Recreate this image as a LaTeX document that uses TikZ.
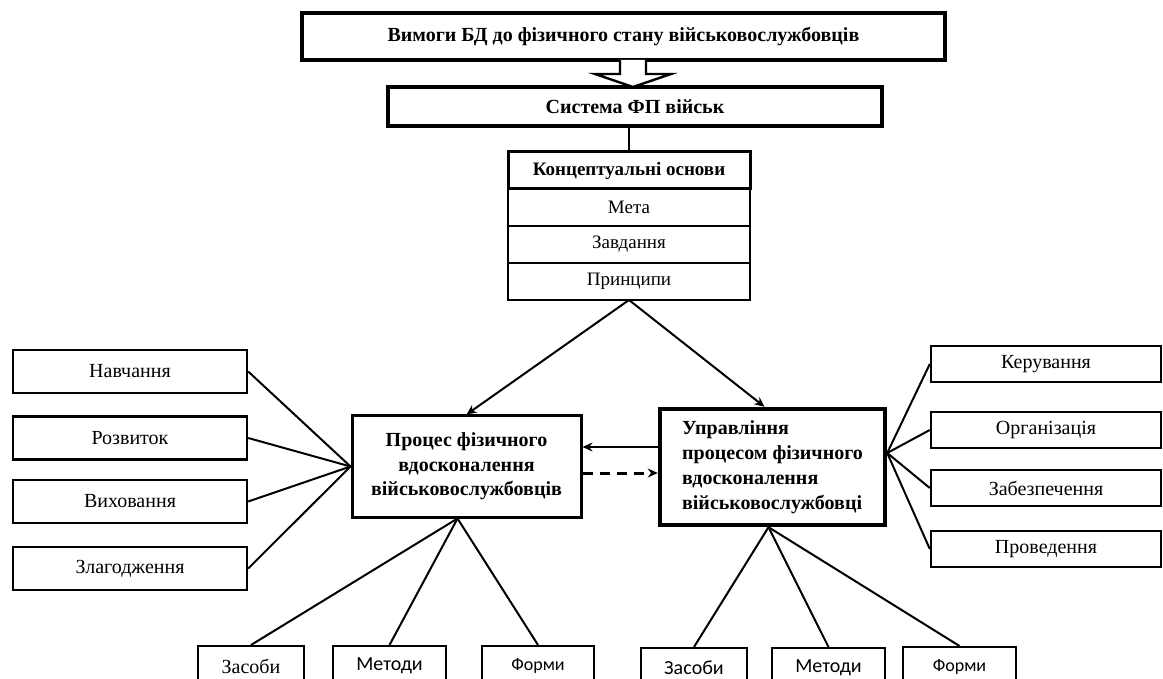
\documentclass[tikz,border=0pt]{standalone}
\usepackage{fontspec}
\setmainfont{Liberation Serif}
\newfontfamily\calibri{Carlito}
\usetikzlibrary{
  arrows.meta,
  positioning,
}
\tikzset{
  >={Stealth[length=5pt,width=4.5pt]},
  headbox/.style={draw,rectangle,line width=2pt,font=\bfseries\fontsize{10}{12}\selectfont},
  stackbox/.style={draw,rectangle,line width=1pt,outer sep=0pt,minimum width=121pt,minimum height=18.5pt,font=\fontsize{9.5}{11}\selectfont},
  sidebox/.style={draw,rectangle,line width=1.2pt,minimum width=117pt,minimum height=21.5pt,font=\fontsize{10}{12}\selectfont},
  rightbox/.style={sidebox,minimum width=115pt,minimum height=18pt},
  leafbox/.style={draw,rectangle,line width=1pt,anchor=north,minimum height=20pt,font=\calibri\fontsize{10}{12}\selectfont},
  link/.style={line width=1pt},
}

\begin{document}
\begin{tikzpicture}[x=0.5pt,y=-0.5pt,node distance=0mm and 0mm]
        \useasboundingbox (0,0) rectangle (1163,679);
        \clip (0,0) rectangle (1163,679);

        \node[headbox,minimum width=321.5pt,minimum height=23.5pt] (req) at (623.5,36.5) {Вимоги БД до фізичного стану військовослужбовців};
        \node[headbox,minimum width=247pt,minimum height=19.5pt] (sys) at (635,106.5) {Система ФП військ};
        \draw[line width=1.2pt,fill=white] (620,60) -- (620,74) -- (595,74) -- (633,87) -- (671,74) -- (646,74) -- (646,60);

        \node[stackbox,line width=1.5pt,font=\bfseries\fontsize{9.5}{11}\selectfont] (concept) at (629,170.5) {Концептуальні основи};
        \node[stackbox] (goal) [below=of concept] {Мета};
        \node[stackbox] (tasks) [below=of goal] {Завдання};
        \node[stackbox] (princ) [below=of tasks] {Принципи};

        \node[draw,rectangle,line width=1.5pt,minimum width=114.5pt,minimum height=50.5pt,align=center,font=\bfseries\fontsize{10}{12.25}\selectfont] (proc) at (466.5,466.5) {Процес фізичного\\вдосконалення\\військовослужбовців};
        \node[draw,rectangle,line width=2.2pt,minimum width=112.5pt,minimum height=58pt,align=left,font=\bfseries\fontsize{10}{12.5}\selectfont] (upr) at (772.5,467) {Управління\\процесом фізичного\\вдосконалення\\військовослужбовці};

        \node[sidebox] (learn) at (130,371.5) {Навчання};
        \node[sidebox] (develop) at (130,438) {Розвиток};
        \node[sidebox] (educ) at (130,501.5) {Виховання};
        \node[sidebox] (team) at (130,568.5) {Злагодження};

        \node[rightbox] (command) at (1046,364) {Керування};
        \node[rightbox] (organize) at (1046,430) {Організація};
        \node[rightbox] (supply) at (1046,488) {Забезпечення};
        \node[rightbox] (conduct) at (1046,549) {Проведення};

        \node[leafbox,minimum width=53pt,font=\fontsize{10}{12}\selectfont] (meansL) at (251,645) {Засоби};
        \node[leafbox,minimum width=56.5pt] (methL) at (389.5,645) {Методи};
        \node[leafbox,minimum width=56pt,font=\calibri\fontsize{9}{11}\selectfont] (formL) at (538,645) {Форми};
        \node[leafbox,minimum width=53pt] (meansR) at (694,647) {Засоби};
        \node[leafbox,minimum width=56.5pt] (methR) at (828.5,647) {Методи};
        \node[leafbox,minimum width=56.5pt,font=\calibri\fontsize{9}{11}\selectfont] (formR) at (959.5,646) {Форми};

        \draw[link] (concept.north |- sys.south) -- (concept.north);
        \draw[link,->] (princ.south) -- (proc.north);
        \draw[link,->] (princ.south) -- ([xshift=-4pt]upr.north);
        \draw[link,->] (upr.west |- 0,447) -- (proc.east |- 0,447);
        \draw[line width=1.5pt,dash pattern=on 5pt off 3.5pt,->] (proc.east |- 0,473) -- (upr.west |- 0,473);
        \foreach \n in {learn,develop,educ,team}
            \draw[link] (\n.east) -- (proc.west);
        \foreach \n in {command,organize,supply,conduct}
            \draw[link] ([yshift=7pt]upr.east) -- (\n.west);
        \foreach \n in {meansL,methL,formL}
            \draw[link] ([xshift=-4.5pt]proc.south) -- (\n.north);
        \foreach \n in {meansR,methR,formR}
            \draw[link] ([xshift=-2pt]upr.south) -- (\n.north);
    \end{tikzpicture}
\end{document}
